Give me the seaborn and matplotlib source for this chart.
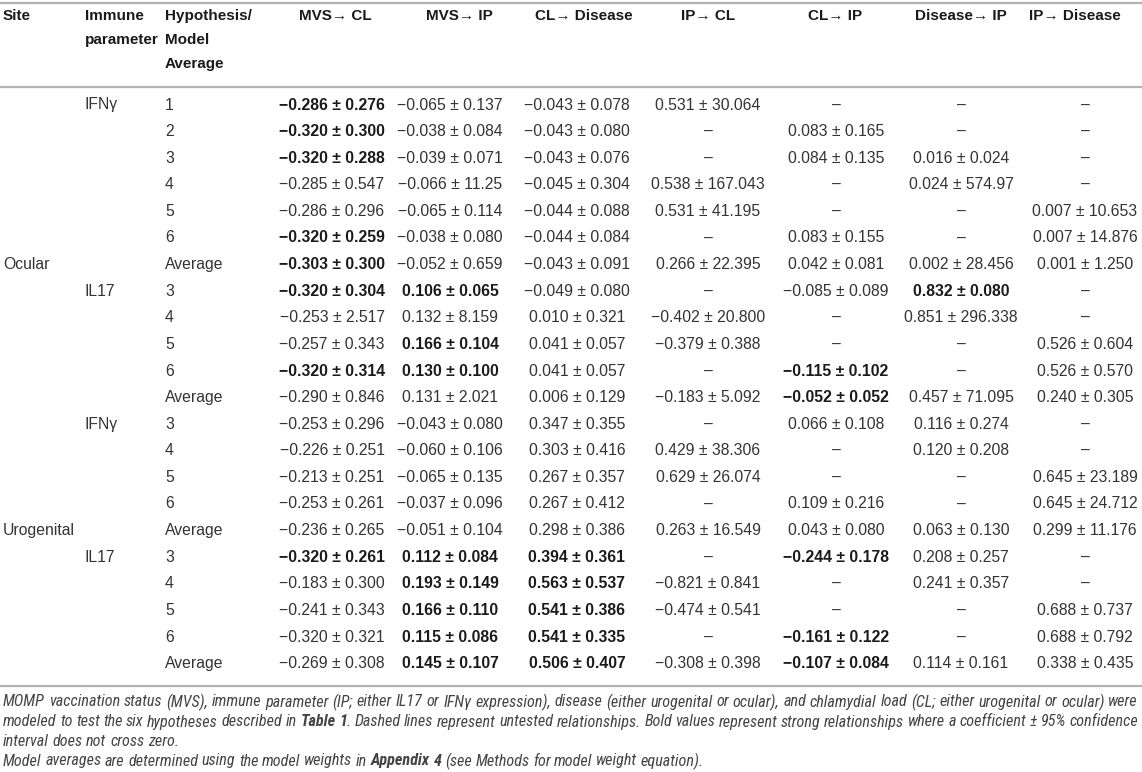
import os
import numpy as np
import pandas as pd
import seaborn as sns
import matplotlib
matplotlib.use("Agg")
import matplotlib.pyplot as plt
from matplotlib import font_manager

#table content
header = ["MVS\u2192 CL", "MVS\u2192 IP", "CL\u2192 Disease", "IP\u2192 CL",
          "CL\u2192 IP", "Disease\u2192 IP", "IP\u2192 Disease"]

site = {6: "Ocular", 16: "Urogenital"}
immune = {0: "IFN\u03b3", 7: "IL17", 12: "IFN\u03b3", 17: "IL17"}
hypothesis = ["1", "2", "3", "4", "5", "6", "Average",
              "3", "4", "5", "6", "Average",
              "3", "4", "5", "6", "Average",
              "3", "4", "5", "6", "Average"]

mvs_cl = ["−0.286 ± 0.276", "−0.320 ± 0.300", "−0.320 ± 0.288", "−0.285 ± 0.547",
          "−0.286 ± 0.296", "−0.320 ± 0.259", "−0.303 ± 0.300", "−0.320 ± 0.304",
          "−0.253 ± 2.517", "−0.257 ± 0.343", "−0.320 ± 0.314", "−0.290 ± 0.846",
          "−0.253 ± 0.296", "−0.226 ± 0.251", "−0.213 ± 0.251", "−0.253 ± 0.261",
          "−0.236 ± 0.265", "−0.320 ± 0.261", "−0.183 ± 0.300", "−0.241 ± 0.343",
          "−0.320 ± 0.321", "−0.269 ± 0.308"]
mvs_ip = ["−0.065 ± 0.137", "−0.038 ± 0.084", "−0.039 ± 0.071", "−0.066 ± 11.25",
          "−0.065 ± 0.114", "−0.038 ± 0.080", "−0.052 ± 0.659", "0.106 ± 0.065",
          "0.132 ± 8.159", "0.166 ± 0.104", "0.130 ± 0.100", "0.131 ± 2.021",
          "−0.043 ± 0.080", "−0.060 ± 0.106", "−0.065 ± 0.135", "−0.037 ± 0.096",
          "−0.051 ± 0.104", "0.112 ± 0.084", "0.193 ± 0.149", "0.166 ± 0.110",
          "0.115 ± 0.086", "0.145 ± 0.107"]
cl_disease = ["−0.043 ± 0.078", "−0.043 ± 0.080", "−0.043 ± 0.076", "−0.045 ± 0.304",
              "−0.044 ± 0.088", "−0.044 ± 0.084", "−0.043 ± 0.091", "−0.049 ± 0.080",
              "0.010 ± 0.321", "0.041 ± 0.057", "0.041 ± 0.057", "0.006 ± 0.129",
              "0.347 ± 0.355", "0.303 ± 0.416", "0.267 ± 0.357", "0.267 ± 0.412",
              "0.298 ± 0.386", "0.394 ± 0.361", "0.563 ± 0.537", "0.541 ± 0.386",
              "0.541 ± 0.335", "0.506 ± 0.407"]
ip_cl = ["0.531 ± 30.064", None, None, "0.538 ± 167.043", "0.531 ± 41.195", None,
         "0.266 ± 22.395", None, "−0.402 ± 20.800", "−0.379 ± 0.388", None,
         "−0.183 ± 5.092", None, "0.429 ± 38.306", "0.629 ± 26.074", None,
         "0.263 ± 16.549", None, "−0.821 ± 0.841", "−0.474 ± 0.541", None,
         "−0.308 ± 0.398"]
cl_ip = [None, "0.083 ± 0.165", "0.084 ± 0.135", None, None, "0.083 ± 0.155",
         "0.042 ± 0.081", "−0.085 ± 0.089", None, None, "−0.115 ± 0.102",
         "−0.052 ± 0.052", "0.066 ± 0.108", None, None, "0.109 ± 0.216",
         "0.043 ± 0.080", "−0.244 ± 0.178", None, None, "−0.161 ± 0.122",
         "−0.107 ± 0.084"]
disease_ip = [None, None, "0.016 ± 0.024", "0.024 ± 574.97", None, None,
              "0.002 ± 28.456", "0.832 ± 0.080", "0.851 ± 296.338", None, None,
              "0.457 ± 71.095", "0.116 ± 0.274", "0.120 ± 0.208", None, None,
              "0.063 ± 0.130", "0.208 ± 0.257", "0.241 ± 0.357", None, None,
              "0.114 ± 0.161"]
ip_disease = [None, None, None, None, "0.007 ± 10.653", "0.007 ± 14.876",
              "0.001 ± 1.250", None, None, "0.526 ± 0.604", "0.526 ± 0.570",
              "0.240 ± 0.305", None, None, "0.645 ± 23.189", "0.645 ± 24.712",
              "0.299 ± 11.176", None, None, "0.688 ± 0.737", "0.688 ± 0.792",
              "0.338 ± 0.435"]

# rows printed in bold (strong relationships)
bold_rows = [[0, 1, 2, 5, 6, 7, 10, 17],
             [7, 9, 10, 17, 18, 19, 20, 21],
             [17, 18, 19, 20, 21],
             [],
             [10, 11, 17, 20, 21],
             [7],
             []]

notes = [
    [("MOMP vaccination status (MVS), immune parameter (IP; either IL17 or IFN\u03b3 expression), disease (either urogenital or ocular), and chlamydial load (CL; either urogenital or ocular) were", False)],
    [("modeled to test the six hypotheses described in", False), ("Table 1", True),
     (". Dashed lines represent untested relationships. Bold values represent strong relationships where a coefficient \u00b1 95% confidence", False)],
    [("interval does not cross zero.", False)],
    [("Model averages are determined using the model weights in", False), ("Appendix 4", True),
     ("(see Methods for model weight equation).", False)],
]

values = [mvs_cl, mvs_ip, cl_disease, ip_cl, cl_ip, disease_ip, ip_disease]
table = pd.DataFrame({h: [v if v is not None else "\u2013" for v in col]
                      for h, col in zip(header, values)})

sns.set_theme(style="white")
plt.rcParams['font.family'] = ['Liberation Sans', 'DejaVu Sans']

W, H = 1142, 772
fig = plt.figure(figsize=(W / 100, H / 100), dpi=100)
ax = fig.add_axes([0, 0, 1, 1])
ax.set_xlim(0, W)
ax.set_ylim(H, 0)
ax.axis("off")

# layout
data_x = [332, 450, 577, 708, 836, 961, 1085]
head_x = [335, 459, 584, 708, 835, 961, 1075]
col_left = [3, 85, 165]
row0, row_h = 105, 26.6
head_y = [16, 40, 64]
fs = 11.3
hfs = 11.0
txt_col = "#333333"
head_col = "#1a1a1a"
rule_col = "#b3b3b3"

for y in [3, 87, 686]:
    ax.hlines(y, 0, W, color=rule_col, lw=1.6)

ax.text(col_left[0], head_y[0], "Site", ha="left", va="center", fontsize=hfs, fontweight="bold", color=head_col)
for k, s in enumerate(["Immune", "parameter"]):
    ax.text(col_left[1], head_y[k], s, ha="left", va="center", fontsize=hfs, fontweight="bold", color=head_col)
for k, s in enumerate(["Hypothesis/", "Model", "Average"]):
    ax.text(col_left[2], head_y[k], s, ha="left", va="center", fontsize=hfs, fontweight="bold", color=head_col)
for x, h in zip(head_x, header):
    ax.text(x, head_y[0], h, ha="center", va="center", fontsize=hfs, fontweight="bold", color=head_col)

for i, hyp in enumerate(hypothesis):
    y = row0 + i * row_h
    if i in site:
        ax.text(col_left[0], y, site[i], ha="left", va="center", fontsize=fs, color=txt_col)
    if i in immune:
        ax.text(col_left[1], y, immune[i], ha="left", va="center", fontsize=fs, color=txt_col)
    ax.text(col_left[2], y, hyp, ha="left", va="center", fontsize=fs, color=txt_col)
    for j, h in enumerate(header):
        b = i in bold_rows[j]
        ax.text(data_x[j], y, table[h][i], ha="center", va="center", fontsize=fs,
                fontweight="bold" if b else "normal",
                color=head_col if b else txt_col)

# footnote font: look for a condensed italic face
def wnum(w):
    if isinstance(w, str):
        return font_manager.weight_dict.get(w, 400)
    return w

def find_face(bold):
    prefs = ["Liberation Sans Narrow", "Roboto Condensed", "DejaVu Sans Condensed",
             "DejaVu Sans", "Open Sans Condensed", "Noto Sans"]
    best = None
    for f in font_manager.fontManager.ttflist:
        label = f.name + " " + os.path.basename(f.fname)
        cond = ("Narrow" in label or "Condensed" in label or "Cond" in label
                or f.stretch in ("condensed", "semi-condensed", "extra-condensed", 300, 400))
        if f.stretch in ("normal", 500) and not ("Narrow" in label or "Cond" in label):
            cond = False
        if not cond or f.style not in ("italic", "oblique"):
            continue
        if (wnum(f.weight) >= 600) != bold:
            continue
        if bold is False and wnum(f.weight) < 350:
            continue
        rank = len(prefs)
        for r, p in enumerate(prefs):
            if label.startswith(p):
                rank = r
                break
        if best is None or rank < best[0]:
            best = (rank, f.fname)
    return best[1] if best else None

reg_file = find_face(False)
bold_file = find_face(True)

def fprops(size, bold):
    fname = bold_file if bold else reg_file
    if fname is not None:
        return font_manager.FontProperties(fname=fname, size=size)
    return font_manager.FontProperties(family=["Liberation Sans", "DejaVu Sans"], style="italic",
                                       weight="bold" if bold else "normal", size=size)

renderer = fig.canvas.get_renderer()

def width(s, size, bold):
    t = ax.text(0, 0, s, fontproperties=fprops(size, bold))
    w = t.get_window_extent(renderer).width
    t.remove()
    return w

nsize = 10.0
nat = width(notes[0][0][0], nsize, False)
nsize = min(nsize * 1128 / nat, 13.5)

note_y = [702, 722, 741, 761]
for k, line in enumerate(notes):
    words = []
    for seg, b in line:
        for w in seg.split(" "):
            words.append((w, b))
    merged = []
    for w, b in words:
        merged.append((w, b, bool(merged) and w.startswith(".") and not b))
    widths = [width(w, nsize, b) for w, b, _ in merged]
    space = width("a a", nsize, False) - width("aa", nsize, False)
    n_gaps = sum(1 for m in merged[1:] if not m[2])
    if k in (0, 1):
        gap = (W - 4 - 3 - sum(widths)) / n_gaps
    else:
        gap = space
    x = 3
    for (w, b, glued), wd in zip(merged, widths):
        if x > 3 and not glued:
            x += gap
        ax.text(x, note_y[k], w, ha="left", va="center", fontproperties=fprops(nsize, b),
                color="#444444")
        x += wd

fig.savefig("out.png", dpi=100)
